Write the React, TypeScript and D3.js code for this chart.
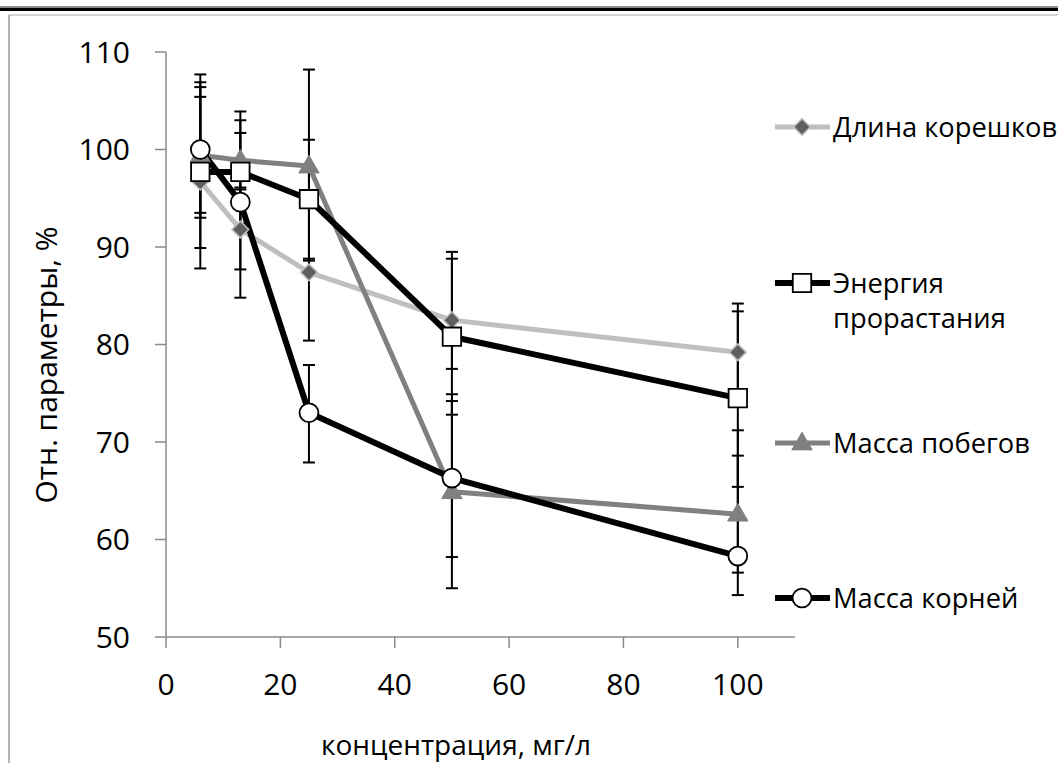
import React from 'react'
import { scaleLinear, line, symbol, symbolSquare, symbolCircle, symbolTriangle } from 'd3'

// Data
const concentrations = [6, 13, 25, 50, 100]
const seriesNames = ['Длина корешков', 'Энергия прорастания', 'Масса побегов', 'Масса корней']

const dlinaKoreshkov = [96.7, 91.8, 87.4, 82.5, 79.2]
const energiyaProrastaniya = [97.7, 97.7, 94.9, 80.8, 74.5]
const massaPobegov = [99.4, 98.9, 98.3, 64.9, 62.6]
const massaKorney = [100, 94.6, 73.0, 66.3, 58.3]

// error bars (plus / minus)
const dlinaErrPlus = [10.2, 4.1, 7.0, 7.0, 5.0]
const dlinaErrMinus = [6.8, 4.1, 7.0, 5.0, 5.0]
const energiyaErrPlus = [10.0, 5.3, 6.1, 8.0, 8.9]
const energiyaErrMinus = [9.9, 5.3, 6.1, 8.0, 9.1]
const pobegovErrPlus = [6.0, 2.8, 9.9, 9.3, 8.6]
const pobegovErrMinus = [6.4, 2.8, 9.7, 9.9, 8.3]
const korneyErrPlus = [6.4, 9.3, 4.9, 8.6, 10.3]
const korneyErrMinus = [6.5, 9.8, 5.1, 8.1, 1.7]

const yTicks = [50, 60, 70, 80, 90, 100, 110]
const xTicks = [0, 20, 40, 60, 80, 100]

const W = 1058
const H = 763
const font = '"Open Sans", sans-serif'
const axisColor = '#8a8a8a'
const legendFont = 27.3

const xScale = scaleLinear().domain([0, 110]).range([166, 795])
const yScale = scaleLinear().domain([50, 110]).range([637, 52])

const series = [
    { name: seriesNames[0], values: dlinaKoreshkov, plus: dlinaErrPlus, minus: dlinaErrMinus, stroke: '#bfbfbf', width: 5, marker: 'diamond', legendY: 127 },
    { name: seriesNames[2], values: massaPobegov, plus: pobegovErrPlus, minus: pobegovErrMinus, stroke: '#808080', width: 5, marker: 'triangle', legendY: 443 },
    { name: seriesNames[1], values: energiyaProrastaniya, plus: energiyaErrPlus, minus: energiyaErrMinus, stroke: '#000000', width: 6, marker: 'square', legendY: 283 },
    { name: seriesNames[3], values: massaKorney, plus: korneyErrPlus, minus: korneyErrMinus, stroke: '#000000', width: 6, marker: 'circle', legendY: 598 },
]

const Marker = ({ type, x, y }) => {
    if (type === 'diamond') {
        return <path d={symbol(symbolSquare, 140)()} transform={`translate(${x},${y}) rotate(45)`}
            fill="#5f5f5f" stroke="#c0c0c0" strokeWidth={1.5} />
    }
    if (type === 'square') {
        return <path d={symbol(symbolSquare, 340)()} transform={`translate(${x},${y})`}
            fill="#fff" stroke="#000" strokeWidth={1.8} />
    }
    if (type === 'triangle') {
        return <path d={symbol(symbolTriangle, 180)()} transform={`translate(${x},${y + 1})`}
            fill="#808080" stroke="#808080" strokeWidth={1} />
    }
    return <path d={symbol(symbolCircle, 280)()} transform={`translate(${x},${y})`}
        fill="#fff" stroke="#000" strokeWidth={1.8} />
}

const App = () => {
    const linea = line()
        .x((d) => xScale(d[0]))
        .y((d) => yScale(d[1]))

    return (
        <div style={{ position: 'absolute', left: 0, top: 0 }}>
            <svg width={W} height={H} style={{ display: 'block', background: '#fff' }}>
                {/* frame */}
                <rect x={0} y={6} width={W} height={2} fill="#8c8c8c" />
                <rect x={0} y={8} width={W} height={3} fill="#000" />
                <line x1={9} x2={W} y1={15} y2={15} stroke="#c8c8c8" strokeWidth={1.5} />
                <line x1={9} x2={9} y1={15} y2={H} stroke="#9a9a9a" strokeWidth={1.5} />

                {/* axes */}
                <line x1={xScale(0)} x2={xScale(0)} y1={yScale(110)} y2={yScale(50)} stroke={axisColor} strokeWidth={1.5} />
                <line x1={xScale(0)} x2={xScale(110)} y1={yScale(50)} y2={yScale(50)} stroke={axisColor} strokeWidth={1.5} />
                {yTicks.map((t) => (
                    <g key={'y' + t}>
                        <line x1={155} x2={xScale(0)} y1={yScale(t)} y2={yScale(t)} stroke={axisColor} strokeWidth={1.5} />
                        <text x={130} y={yScale(t)} dy="0.36em" textAnchor="end" fontFamily={font} fontSize={30}>{t}</text>
                    </g>
                ))}
                {xTicks.map((t) => (
                    <g key={'x' + t}>
                        <line x1={xScale(t)} x2={xScale(t)} y1={yScale(50)} y2={648} stroke={axisColor} strokeWidth={1.5} />
                        <text x={xScale(t)} y={684} dy="0.36em" textAnchor="middle" fontFamily={font} fontSize={30}>{t}</text>
                    </g>
                ))}
                <text x={456} y={745} dy="0.36em" textAnchor="middle" fontFamily={font} fontSize={28}>концентрация, мг/л</text>
                <text transform="translate(46,365) rotate(-90)" dy="0.36em" textAnchor="middle" fontFamily={font} fontSize={30}>Отн. параметры, %</text>

                {/* error bars */}
                {series.map((s, si) => s.values.map((v, i) => {
                    const x = xScale(concentrations[i])
                    const y1 = yScale(v + s.plus[i])
                    const y2 = yScale(v - s.minus[i])
                    return (
                        <g key={'e' + si + '-' + i} stroke="#000" strokeWidth={2}>
                            <line x1={x} x2={x} y1={y1} y2={y2} />
                            <line x1={x - 6} x2={x + 6} y1={y1} y2={y1} />
                            <line x1={x - 6} x2={x + 6} y1={y2} y2={y2} />
                        </g>
                    )
                }))}

                {/* lines */}
                {series.map((s, si) => (
                    <path key={'l' + si} d={linea(s.values.map((v, i) => [concentrations[i], v]))}
                        fill="none" stroke={s.stroke} strokeWidth={s.width} strokeLinejoin="round" />
                ))}

                {/* markers */}
                {series.map((s, si) => s.values.map((v, i) => (
                    <Marker key={'m' + si + '-' + i} type={s.marker} x={xScale(concentrations[i])} y={yScale(v)} />
                )))}

                {/* legend */}
                {series.map((s, si) => (
                    <g key={'lg' + si}>
                        <line x1={775} x2={830} y1={s.legendY} y2={s.legendY} stroke={s.stroke} strokeWidth={s.width} />
                        <Marker type={s.marker} x={802} y={s.legendY} />
                        {s.name === 'Энергия прорастания' ? (
                            <text x={833} y={s.legendY} dy="0.36em" fontFamily={font} fontSize={legendFont}>
                                <tspan x={833}>Энергия</tspan>
                                <tspan x={833} dy={35}>прорастания</tspan>
                            </text>
                        ) : (
                            <text x={833} y={s.legendY} dy="0.36em" fontFamily={font} fontSize={legendFont}>{s.name}</text>
                        )}
                    </g>
                ))}
            </svg>
        </div>
    )
}

export default App
